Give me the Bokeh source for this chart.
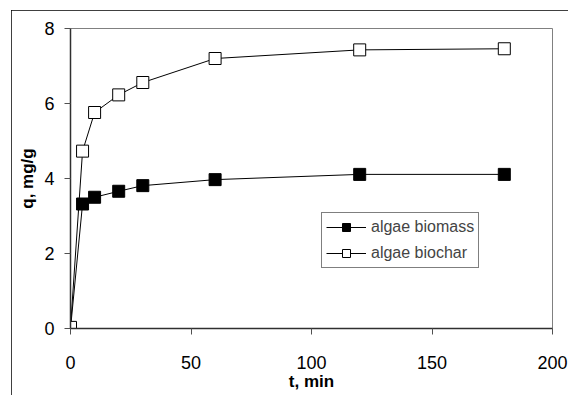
from bokeh.plotting import figure
from bokeh.models import Range1d, FixedTicker
from bokeh.embed import file_html
from bokeh.resources import INLINE

t_min = [0, 5, 10, 20, 30, 60, 120, 180]
q_biomass = [0.0, 3.32, 3.50, 3.66, 3.81, 3.97, 4.11, 4.11]
q_biochar = [0.03, 4.73, 5.76, 6.23, 6.56, 7.20, 7.43, 7.46]
x_ticks = [0, 50, 100, 150, 200]
y_ticks = [0, 2, 4, 6, 8]

FONT = "Liberation Sans"

p = figure(width=557, height=385, output_backend="svg", toolbar_location=None,
           x_range=Range1d(0, 200), y_range=Range1d(0, 8),
           min_border_left=59, min_border_right=16, min_border_top=18, min_border_bottom=67)
p.styles = {"margin-left": "11px", "margin-top": "10px",
            "box-shadow": "inset 1px 1px 0 0 black"}

p.xgrid.visible = False
p.ygrid.visible = False
p.outline_line_color = "#808080"
p.outline_line_width = 1

for ax in (p.xaxis[0], p.yaxis[0]):
    ax.axis_line_color = "#303030"
    ax.axis_line_width = 1.5
    ax.major_tick_line_color = "#505050"
    ax.major_tick_out = 6
    ax.major_tick_in = 0
    ax.minor_tick_line_color = None
    ax.major_label_text_font = FONT
    ax.major_label_text_font_size = "18px"
    ax.major_label_text_color = "black"
    ax.axis_label_text_font = FONT
    ax.axis_label_text_font_size = "17px"
    ax.axis_label_text_font_style = "bold"
    ax.axis_label_text_color = "black"

p.xaxis.ticker = FixedTicker(ticks=x_ticks)
p.yaxis.ticker = FixedTicker(ticks=y_ticks)
p.xaxis.axis_label = "t, min"
p.yaxis.axis_label = "q, mg/g"
p.xaxis.major_label_standoff = 21
p.yaxis.major_label_standoff = 10
p.xaxis.axis_label_standoff = 0
p.yaxis.axis_label_standoff = 4

p.line(t_min, q_biomass, line_color="black", line_width=1, legend_label="algae biomass")
p.scatter(t_min, q_biomass, marker="square", size=12, fill_color="black",
          line_color="black", line_width=1, legend_label="algae biomass")
p.line(t_min, q_biochar, line_color="black", line_width=1, legend_label="algae biochar")
p.scatter(t_min, q_biochar, marker="square", size=12, fill_color="white",
          line_color="black", line_width=1, legend_label="algae biochar")

lg = p.legend[0]
lg.location = (251, 60)
lg.border_line_color = "black"
lg.border_line_width = 1
lg.background_fill_color = "white"
lg.background_fill_alpha = 1
lg.label_text_font = FONT
lg.label_text_font_size = "16px"
lg.glyph_width = 40
lg.glyph_height = 20
lg.label_height = 20
lg.label_standoff = 5
lg.spacing = 6
lg.padding = 4
lg.margin = 0

open("out.html", "w").write(file_html(p, INLINE))
